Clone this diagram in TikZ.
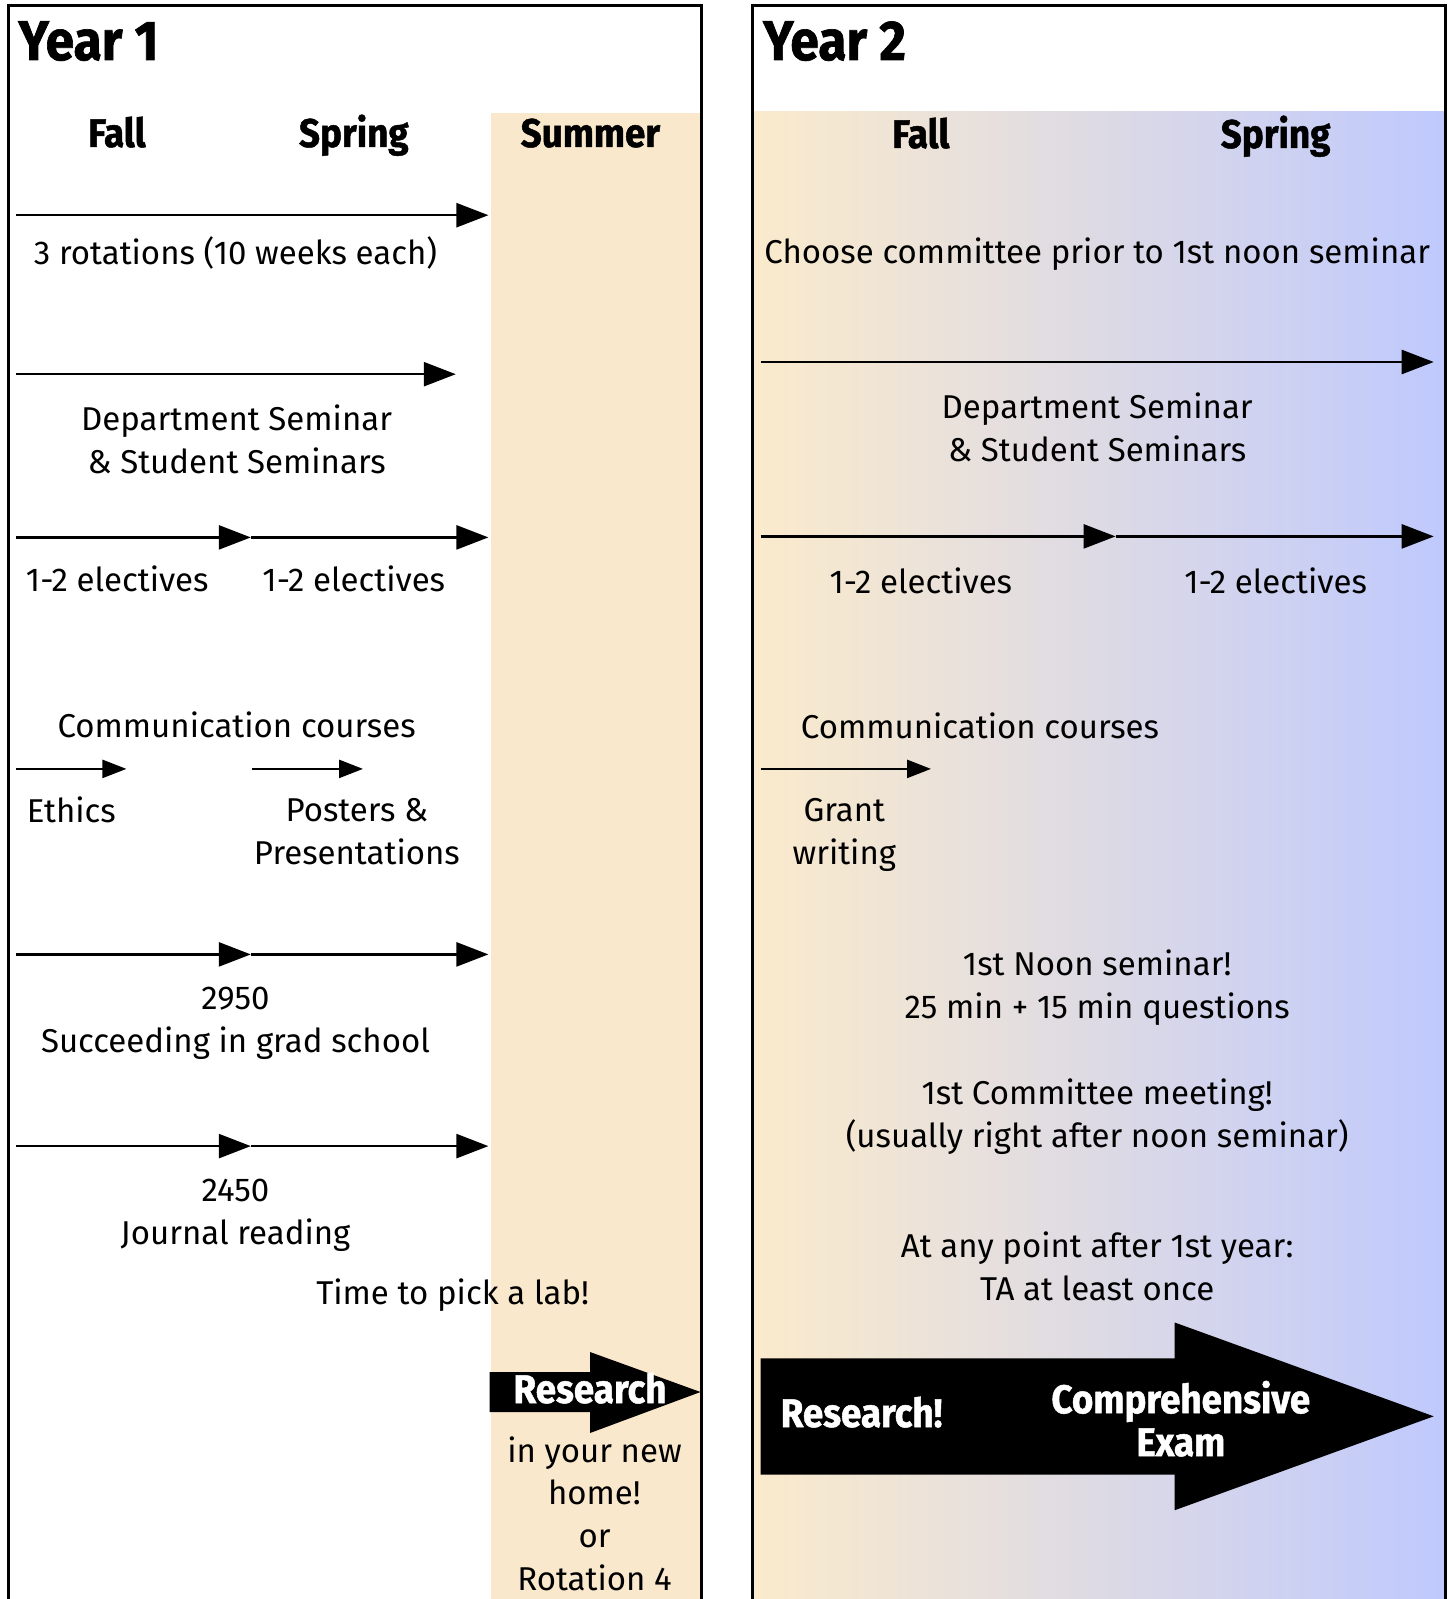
\documentclass[tikz,border=0pt]{standalone}
\usepackage{fontspec}
\setmainfont{Fira Sans}
\newfontfamily\regf{Fira Sans}
\newfontfamily\heavyf{Fira Sans}[FakeStretch=0.92, BoldFeatures={FakeBold=1.2}]
\usetikzlibrary{arrows.meta}
\definecolor{summer}{HTML}{F9E8CC}
\definecolor{gradL}{HTML}{FBEBCC}
\definecolor{gradR}{HTML}{BFC9FD}
\tikzset{
  txt/.style={font=\regf\fontsize{16.5}{21.4}\selectfont, align=center, inner sep=0pt, anchor=base},
  hdr/.style={font=\heavyf\bfseries\fontsize{20}{24}\selectfont, inner sep=0pt, anchor=base},
  ttl/.style={font=\heavyf\bfseries\fontsize{28}{32}\selectfont, inner sep=0pt, anchor=base west},
  wtxt/.style={font=\heavyf\bfseries\fontsize{20}{21.4}\selectfont, text=white, align=center, inner sep=0pt, anchor=base},
  arr/.style={line width=1.25pt, -{Triangle[length=16pt,width=12pt]}},
  sarr/.style={line width=1.25pt, -{Triangle[length=12pt,width=9pt]}},
  frame/.style={line width=1.5pt}
}
\begin{document}
\begin{tikzpicture}[x=0.5pt,y=-0.5pt]
\useasboundingbox (0,0) rectangle (1448,1599);
% backgrounds
\fill[summer] (490.5,113) rectangle (701,1610);
\shade[left color=gradL, right color=gradR] (753,112) rectangle (1445,1610);
% frames
\draw[frame] (8.5,1610) -- (8.5,5.5) -- (701.5,5.5) -- (701.5,1610);
\draw[frame] (752.5,1610) -- (752.5,5.5) -- (1445,5.5) -- (1445,1610);

% ---------------- Year 1 ----------------
\node[ttl] (y1) at (18,60) {Year 1};
\node[hdr] (f1) at (117,147) {Fall};
\node[hdr] (s1) at (353.8,147) {Spring};
\node[hdr] (su1) at (590.4,147) {Summer};

\coordinate (r1a) at (16.3,215.2);
\coordinate (r1b) at (488.4,215.2);
\draw[arr] (r1a) -- (r1b);
\node[txt] (rot) at (235.5,265) {3 rotations (10 weeks each)};

\coordinate (d1a) at (16.3,374.2);
\coordinate (d1b) at (455.8,374.2);
\draw[arr] (d1a) -- (d1b);
\node[txt] (dep1) at (236.6,473) {Department Seminar\\\& Student Seminars};

\coordinate (e1a) at (16.3,537.4);
\coordinate (e1b) at (250.8,537.4);
\coordinate (e1c) at (488.4,537.4);
\draw[arr] (e1a) -- (e1b);
\draw[arr] (e1b) -- (e1c);
\node[txt] (el1) at (117.3,591) {1-2 electives};
\node[txt] (el2) at (353.8,591) {1-2 electives};

\node[txt] (com1) at (236.6,737) {Communication courses};
\coordinate (c1a) at (16.3,768.9);
\coordinate (c1b) at (126.4,768.9);
\coordinate (c2a) at (251.9,768.9);
\coordinate (c2b) at (363,768.9);
\draw[sarr] (c1a) -- (c1b);
\draw[sarr] (c2a) -- (c2b);
\node[txt] (eth) at (71.4,822) {Ethics};
\node[txt] (pos) at (356.9,864.5) {Posters \&\\Presentations};

\coordinate (g1a) at (16.3,954.4);
\coordinate (g1b) at (250.8,954.4);
\coordinate (g1c) at (488.4,954.4);
\draw[arr] (g1a) -- (g1b);
\draw[arr] (g1b) -- (g1c);
\node[txt] (c2950) at (235.5,1052) {2950\\Succeeding in grad school};

\coordinate (j1a) at (16.3,1146.1);
\coordinate (j1b) at (250.8,1146.1);
\coordinate (j1c) at (488.4,1146.1);
\draw[arr] (j1a) -- (j1b);
\draw[arr] (j1b) -- (j1c);
\node[txt] (c2450) at (235.5,1244) {2450\\Journal reading};

\node[txt] (pick) at (452.7,1304) {Time to pick a lab!};

\fill[black] (489.5,1372) -- (590,1372) -- (590,1352) -- (700.5,1392) -- (590,1433) -- (590,1412) -- (489.5,1412) -- cycle;
\node[wtxt] (res1) at (590,1403) {Research};
\node[txt] (home) at (594.5,1590.5) {in your new\\home!\\or\\Rotation 4};

% ---------------- Year 2 ----------------
\node[ttl] (y2) at (762.7,60) {Year 2};
\node[hdr] (f2) at (920.8,148) {Fall};
\node[hdr] (s2) at (1275.6,148) {Spring};

\node[txt] (comm) at (1097.2,264) {Choose committee prior to 1st noon seminar};

\coordinate (d2a) at (760.7,362);
\coordinate (d2b) at (1433.7,362);
\draw[arr] (d2a) -- (d2b);
\node[txt] (dep2) at (1097.2,461.7) {Department Seminar\\\& Student Seminars};

\coordinate (e2a) at (760.7,536.4);
\coordinate (e2b) at (1115.6,536.4);
\coordinate (e2c) at (1433.7,536.4);
\draw[arr] (e2a) -- (e2b);
\draw[arr] (e2b) -- (e2c);
\node[txt] (el3) at (920.8,593) {1-2 electives};
\node[txt] (el4) at (1275.6,593) {1-2 electives};

\node[txt] (com2) at (980,738) {Communication courses};
\coordinate (c3a) at (760.7,768.9);
\coordinate (c3b) at (931,768.9);
\draw[sarr] (c3a) -- (c3b);
\node[txt] (grant) at (844.3,864.5) {Grant\\writing};

\node[txt] (noon) at (1097.2,1018.5) {1st Noon seminar!\\25 min + 15 min questions};
\node[txt] (meet) at (1097.2,1147) {1st Committee meeting!\\(usually right after noon seminar)};
\node[txt] (ta) at (1097.2,1300) {At any point after 1st year:\\TA at least once};

\fill[black] (760.7,1358.3) -- (1174.7,1358.3) -- (1174.7,1322.5) -- (1433.7,1416.3) -- (1174.7,1510.2) -- (1174.7,1474.5) -- (760.7,1474.5) -- cycle;
\node[wtxt] (res2) at (861.6,1427) {Research!};
\node[wtxt] (comp) at (1180.8,1456) {Comprehensive\\Exam};
\end{tikzpicture}
\end{document}
